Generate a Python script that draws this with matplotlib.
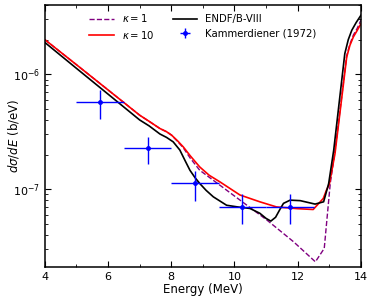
import matplotlib.pyplot as plt
from matplotlib.ticker import MultipleLocator

# ENDF/B-VIII evaluation
e_endf = [4.0, 5.0, 6.0, 7.0, 7.3, 7.64, 7.85, 8.06, 8.27, 8.45, 8.59, 8.75, 8.9, 9.1,
          9.33, 9.75, 10.1, 10.49, 10.8, 11.0, 11.15, 11.3, 11.45, 11.55, 11.76, 12.08,
          12.55, 12.82, 12.98, 13.14, 13.49, 13.6, 13.71, 13.85, 14.0]
xs_endf = [1.89e-6, 1.125e-6, 6.71e-7, 4.0e-7, 3.55e-7, 3.02e-7, 2.82e-7, 2.58e-7, 2.19e-7,
           1.74e-7, 1.46e-7, 1.26e-7, 1.12e-7, 9.77e-8, 8.57e-8, 7.24e-8, 7.0e-8, 6.79e-8,
           6.17e-8, 5.56e-8, 5.27e-8, 5.69e-8, 6.76e-8, 7.52e-8, 8.02e-8, 7.94e-8, 7.41e-8,
           7.76e-8, 1.12e-7, 2.19e-7, 1.51e-6, 2.0e-6, 2.41e-6, 2.82e-6, 3.26e-6]

# model, kappa = 10
e_k10 = [4.0, 5.0, 6.0, 7.0, 7.3, 7.64, 7.85, 8.01, 8.2, 8.38, 8.6, 8.9, 9.2, 9.54, 10.17,
         10.8, 11.33, 12.0, 12.49, 12.81, 12.91, 13.0, 13.18, 13.55, 13.65, 13.76, 13.88, 14.0]
xs_k10 = [2.0e-6, 1.21e-6, 7.3e-7, 4.4e-7, 3.89e-7, 3.37e-7, 3.16e-7, 2.95e-7, 2.63e-7,
          2.33e-7, 1.95e-7, 1.56e-7, 1.32e-7, 1.156e-7, 8.9e-8, 7.76e-8, 7.0e-8, 6.76e-8,
          6.65e-8, 8.3e-8, 9.8e-8, 1.1e-7, 2.04e-7, 1.41e-6, 1.78e-6, 2.11e-6, 2.4e-6, 2.75e-6]

# model, kappa = 1
e_k1 = [4.0, 5.0, 6.0, 7.0, 7.3, 7.64, 7.85, 8.01, 8.2, 8.38, 8.6, 8.9, 11.03, 11.87,
        12.56, 12.84, 13.03, 13.18, 13.55, 13.65, 13.76, 13.88, 14.0]
xs_k1 = [2.0e-6, 1.21e-6, 7.3e-7, 4.4e-7, 3.89e-7, 3.37e-7, 3.16e-7, 2.95e-7, 2.6e-7,
         2.29e-7, 1.86e-7, 1.46e-7, 5.37e-8, 3.48e-8, 2.33e-8, 3.05e-8, 1.12e-7, 2.14e-7,
         1.45e-6, 1.82e-6, 2.19e-6, 2.5e-6, 2.95e-6]

# Kammerdiener (1972)
e_exp = [5.75, 7.25, 8.75, 10.25, 11.75]
de_exp = [0.75, 0.75, 0.75, 0.75, 0.75]
xs_exp = [5.7e-7, 2.26e-7, 1.12e-7, 7.0e-8, 7.0e-8]
dxs_exp = [1.65e-7, 6.0e-8, 3.3e-8, 2.0e-8, 2.0e-8]

fig = plt.figure(figsize=(3.74, 2.99), dpi=100)
ax = fig.add_axes([0.12, 0.107, 0.845, 0.876])

ax.plot(e_k1, xs_k1, color='purple', linestyle='--', lw=1.0, label=r'$\kappa = 1$')
ax.plot(e_k10, xs_k10, color='red', lw=1.2, label=r'$\kappa = 10$')
ax.plot(e_endf, xs_endf, color='black', lw=1.2, label='ENDF/B-VIII')
ax.errorbar(e_exp, xs_exp, xerr=de_exp, yerr=dxs_exp, fmt='o', ms=2.5, color='blue',
            elinewidth=1.0, capsize=0, label='Kammerdiener (1972)')

ax.set_yscale('log')
ax.set_xlim(4, 14)
ax.set_ylim(2.1e-8, 4.0e-6)
ax.xaxis.set_major_locator(MultipleLocator(2))
ax.xaxis.set_minor_locator(MultipleLocator(1))
ax.tick_params(which='both', direction='in', top=True, right=True, labelsize=8)
ax.tick_params(which='major', length=4)
ax.tick_params(which='minor', length=2.5)
for s in ax.spines.values():
    s.set_linewidth(1.1)

ax.set_xlabel('Energy (MeV)', fontsize=8.5, labelpad=1)
ax.set_ylabel(r'$d\sigma/dE$ (b/eV)', fontsize=8.5)
ax.yaxis.set_label_coords(-0.075, 0.5)

ax.legend(loc='upper center', ncol=2, frameon=False, fontsize=7.3,
          handlelength=2.4, columnspacing=1.8, borderaxespad=0.3, labelspacing=0.45)

fig.savefig('out.png', dpi=100)
